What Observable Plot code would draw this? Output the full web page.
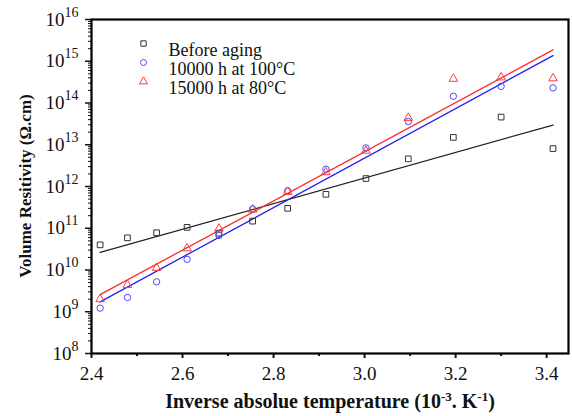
<!DOCTYPE html>
<html><head><meta charset="utf-8">
<script src="https://cdn.jsdelivr.net/npm/d3@7"></script>
<script src="https://cdn.jsdelivr.net/npm/@observablehq/plot@0.6"></script>
<style>body{margin:0;background:#fff} #chart svg{overflow:visible} #chart svg text{font-family:"Liberation Serif","Times New Roman",serif !important;font-variant:normal !important}</style>
</head><body><div id="chart"></div>
<script>
const invT = [2.419,2.479,2.543,2.610,2.680,2.754,2.831,2.915,3.003,3.096,3.195,3.300,3.414];
const beforeAging = [4.0e10,5.9e10,7.8e10,1.05e11,7.6e10,1.48e11,3.0e11,6.5e11,1.55e12,4.6e12,1.5e13,4.6e13,8.1e12];
const aged10000 = [1.22e9,2.2e9,5.2e9,1.8e10,6.7e10,2.9e11,7.9e11,2.6e12,8.4e12,3.6e13,1.45e14,2.5e14,2.3e14];
const aged15000 = [2.0e9,4.4e9,1.12e10,3.3e10,9.8e10,2.8e11,7.4e11,2.2e12,7.2e12,4.4e13,3.8e14,4.1e14,3.9e14];
const seriesNames = ["Before aging","10000 h at 100°C","15000 h at 80°C"];
const seriesValues = [beforeAging, aged10000, aged15000];
const seriesSymbols = ["square","circle","triangle"];
const markerColors = ["#333333","#4a4aff","#ff3b3b"];
const lineColors = ["#222222","#2020ee","#ff2a2a"];
const xTicks = [2.4,2.6,2.8,3.0,3.2,3.4];
const xMinor = [2.5,2.7,2.9,3.1,3.3];
const yExponents = [8,9,10,11,12,13,14,15,16];

const points = [];
seriesValues.forEach((vals,i)=>vals.forEach((v,j)=>points.push({x:invT[j],y:v,s:seriesNames[i]})));

// least-squares fit in log space
const fits = [];
seriesValues.forEach((vals,i)=>{
  const ly = vals.map(Math.log10);
  const mx = d3.mean(invT), my = d3.mean(ly);
  const b = d3.sum(invT.map((x,k)=>(x-mx)*(ly[k]-my)))/d3.sum(invT.map(x=>(x-mx)**2));
  const a = my - b*mx;
  const [x0,x1] = d3.extent(invT);
  [x0,x1].forEach(x=>fits.push({x, y:10**(a+b*x), s:seriesNames[i]}));
});

const yMajor = yExponents.map(e=>10**e);
const yMinor = [];
for (let e=8;e<16;e++) for (let m=2;m<=9;m++) yMinor.push(m*10**e);

const marks = [
  Plot.axisX(xTicks,{tickSize:5, tickPadding:8, fontSize:19, label:null, tickFormat: d=>d.toFixed(1), strokeWidth:2, fill:"#111"}),
  Plot.axisX(xMinor,{tickSize:3, tickFormat:()=>"", label:null, strokeWidth:2}),
  Plot.axisY(yMajor,{tickSize:6, tickPadding:7, fontSize:19, label:null, tickFormat:d=>String(Math.round(Math.log10(d))), strokeWidth:1.5, fill:"#111"}),
  Plot.axisY(yMinor,{tickSize:3, tickFormat:()=>"", label:null, strokeWidth:1}),
  ...seriesNames.map((n,i)=>Plot.line(fits.filter(d=>d.s===n),{x:"x",y:"y",stroke:lineColors[i],strokeWidth:1.3})),
  ...seriesNames.map((n,i)=>Plot.dot(points.filter(d=>d.s===n),{x:"x",y:"y",symbol:seriesSymbols[i],r:3.2,stroke:markerColors[i],strokeWidth:1,fill:"none"})),
  Plot.frame({stroke:"#000", strokeWidth:2.2}),
  ...seriesNames.map((n,i)=>Plot.dot([n],{frameAnchor:"top-left",dx:52,dy:24+19*i,symbol:seriesSymbols[i],r:3,stroke:markerColors[i],strokeWidth:1,fill:"none"})),
  ...seriesNames.map((n,i)=>Plot.text([n],{frameAnchor:"top-left",dx:77,dy:24+19*i,text:d=>d,textAnchor:"start",fontSize:18,fill:"#111"}))
];

const chart = Plot.plot({
  width:572, height:416,
  marginLeft:91, marginRight:4, marginTop:19, marginBottom:63,
  style:{background:"#fff", color:"#111"},
  x:{domain:[2.4,3.448]},
  y:{type:"log", domain:[1e8,1e16]},
  marks
});
document.getElementById("chart").append(chart);

const svg = d3.select(chart);
// superscript y tick labels
svg.selectAll('[aria-label="y-axis tick label"] text').each(function(){
  const t = d3.select(this);
  const e = t.text();
  if (!e) return;
  t.text("10");
  t.append("tspan").attr("dy","-9").attr("font-size","14px").text(e);
});
// axis titles
const xl = svg.append("text").attr("x",330).attr("y",408).attr("text-anchor","middle")
  .attr("font-size","20px").attr("font-weight","bold").attr("fill","#111");
xl.append("tspan").text("Inverse absolue temperature (10");
xl.append("tspan").attr("dy","-7").attr("font-size","13px").text("-3");
xl.append("tspan").attr("dy","7").text(". K");
xl.append("tspan").attr("dy","-7").attr("font-size","13px").text("-1");
xl.append("tspan").attr("dy","7").text(")");
svg.append("text").attr("transform","translate(31,186) rotate(-90)").attr("text-anchor","middle")
  .attr("font-size","17px").attr("font-weight","bold").attr("fill","#111")
  .text("Volume Resitivity (Ω.cm)");
</script></body></html>
